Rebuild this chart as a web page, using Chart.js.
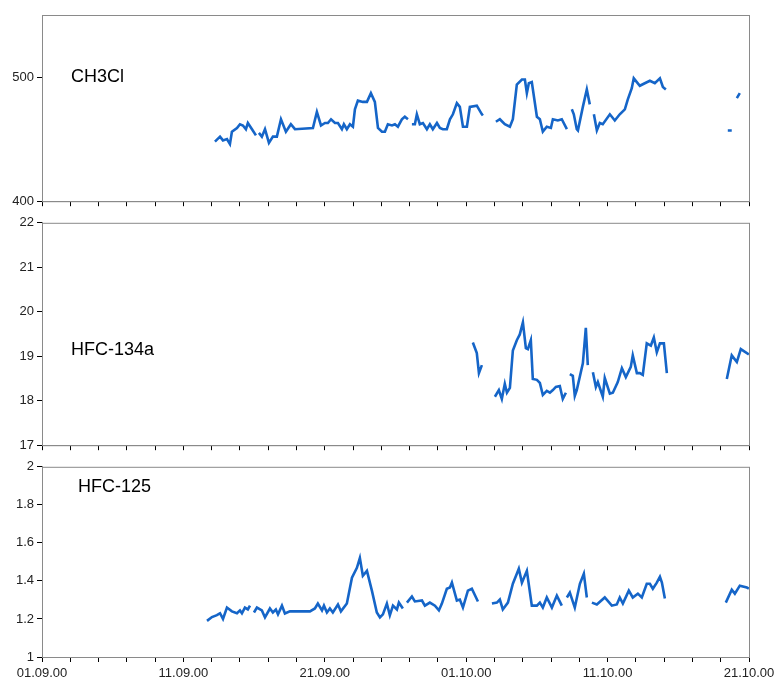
<!DOCTYPE html>
<html>
<head>
<meta charset="utf-8">
<script src="https://cdn.jsdelivr.net/npm/chart.js@4"></script>
<style>
  body { margin: 0; background: #fff; }
  .panel { position: absolute; left: 0; width: 783px; }
</style>
</head>
<body>
<div class="panel" style="top:0;height:212px"><canvas id="c1"></canvas></div>
<div class="panel" style="top:212px;height:244px"><canvas id="c2"></canvas></div>
<div class="panel" style="top:456px;height:234px"><canvas id="c3"></canvas></div>
<script>
// days since 01.09.00; null value = gap in the record
const dateLabels = ['01.09.00', '11.09.00', '21.09.00', '01.10.00', '11.10.00', '21.10.00'];

const ch3clDays = [12.23,12.59,12.80,13.08,13.29,13.43,13.79,14.00,14.21,14.42,14.56,14.85,15.13,15.2,
  15.34,15.55,15.77,16.05,16.33,16.61,16.90,17.25,17.60,17.89,19.16,19.44,19.73,20.01,20.22,20.44,20.72,20.93,
  21.21,21.35,21.56,21.78,21.99,22.13,22.34,22.69,22.98,23.26,23.54,23.76,24.04,24.25,24.46,24.75,24.96,25.17,
  25.45,25.66,25.88,26.0,26.16,26.37,26.51,26.72,26.94,27.22,27.43,27.64,27.93,28.14,28.35,28.63,28.85,29.06,
  29.34,29.55,29.77,30.05,30.26,30.75,31.11,31.18,31.5,32.10,32.38,32.73,33.09,33.30,33.58,33.94,34.15,34.29,
  34.43,34.64,35.00,35.21,35.42,35.70,35.99,36.13,36.48,36.76,37.12,37.3,37.47,37.61,37.82,37.90,38.25,38.53,
  38.74,38.9,39.03,39.24,39.45,39.66,40.16,40.51,40.86,41.22,41.43,41.71,41.85,42.28,42.63,42.99,43.34,43.70,
  43.91,44.12,45,48.50,48.78,49.0,49.14,49.35];
const ch3clValues = [448,452,449,450,446,456,459,462,461,458,463,458,453,null,
  455,452,458,447,452,452,466,456,462,458,459,472,461,463,463,466,463,463,
  458,462,458,462,460,474,481,480,480,487,480,459,456,456,462,461,462,460,
  466,468,466,null,462,462,470,462,463,458,462,458,463,459,458,458,466,470,
  479,476,460,460,476,477,470,469,null,464,466,462,460,466,494,498,498,487,
  495,496,468,466,456,460,459,466,465,466,458,null,474,470,458,457,476,490,
  478,null,470,457,463,462,470,465,470,474,482,491,499,493,495,497,495,499,
  492,490,null,457,457,null,483,487];

const hfc134aDays = [30.47,30.75,30.90,31.11,31.5,32.03,32.31,32.52,32.73,32.88,33.09,33.30,33.58,33.79,34.01,
  34.22,34.36,34.57,34.71,35.00,35.21,35.42,35.70,35.92,36.13,36.34,36.62,36.83,37.05,37.2,37.33,37.54,37.68,
  37.82,38.25,38.46,38.60,38.8,38.96,39.17,39.31,39.66,39.80,40.16,40.37,40.72,41.01,41.29,41.64,41.78,42.07,
  42.28,42.49,42.77,43.06,43.27,43.48,43.70,43.98,44.19,45,48.43,48.78,49.14,49.42,49.99];
const hfc134aValues = [19.31,19.07,18.62,18.8,null,18.09,18.24,18.04,18.38,18.18,18.29,19.13,19.36,19.49,19.76,
  19.18,19.16,19.36,18.49,18.47,18.4,18.13,18.22,18.18,18.24,18.31,18.33,18.04,18.18,null,18.6,18.56,18.11,
  18.24,18.84,19.64,18.8,null,18.64,18.31,18.42,18.09,18.51,18.16,18.18,18.42,18.73,18.53,18.76,19.02,18.62,
  18.62,18.58,19.29,19.24,19.42,19.09,19.29,19.29,18.62,null,18.49,19.02,18.87,19.16,19.04];

const hfc125Days = [11.67,12.02,12.37,12.59,12.80,13.08,13.43,13.79,14.00,14.14,14.35,14.56,14.71,14.85,
  14.99,15.20,15.55,15.77,16.12,16.33,16.54,16.69,16.97,17.18,17.53,18.95,19.30,19.51,19.80,19.94,20.15,20.36,
  20.57,20.93,21.14,21.56,21.92,22.27,22.48,22.69,22.98,23.33,23.68,23.90,24.11,24.39,24.60,24.82,25.10,25.24,
  25.52,25.65,25.81,26.16,26.37,26.87,27.08,27.43,27.79,28.07,28.28,28.63,28.85,28.99,29.34,29.55,29.77,30.12,
  30.40,30.83,31.3,31.82,32.17,32.38,32.59,32.95,33.30,33.58,33.72,33.94,34.29,34.64,35.00,35.21,35.42,35.70,
  36.06,36.41,36.76,36.9,37.12,37.33,37.68,38.04,38.32,38.53,38.7,38.89,39.24,39.80,40.30,40.65,40.86,41.08,
  41.50,41.78,42.14,42.42,42.77,42.99,43.20,43.48,43.70,43.84,44.05,45,48.36,48.78,49.00,49.35,49.85,49.99];
const hfc125Values = [1.19,1.21,1.22,1.23,1.20,1.26,1.24,1.23,1.245,1.23,1.26,1.25,1.27,null,
  1.234,1.26,1.245,1.208,1.255,1.234,1.25,1.224,1.27,1.229,1.24,1.24,1.255,1.281,1.245,1.27,1.234,1.255,
  1.234,1.276,1.24,1.281,1.417,1.469,1.521,1.427,1.453,1.349,1.234,1.208,1.224,1.281,1.219,1.27,1.25,1.286,
  1.255,null,1.286,1.318,1.292,1.297,1.27,1.286,1.27,1.245,1.281,1.359,1.365,1.391,1.297,1.302,1.26,1.349,
  1.359,1.292,null,1.281,1.286,1.302,1.25,1.286,1.385,1.438,1.464,1.391,1.453,1.27,1.27,1.286,1.26,1.313,
  1.26,1.323,1.27,null,1.313,1.339,1.26,1.385,1.438,1.313,null,1.286,1.276,1.313,1.27,1.276,1.313,1.281,
  1.349,1.313,1.333,1.313,1.385,1.385,1.359,1.391,1.422,1.391,1.307,null,1.286,1.354,1.333,1.375,1.365,1.36];

const ch3clTicks = [400, 500];
const hfc134aTicks = [17, 18, 19, 20, 21, 22];
const hfc125Ticks = [1, 1.2, 1.4, 1.6, 1.8, 2];

const frameAndLabel = {
  id: 'frameAndLabel',
  afterDraw(chart) {
    const { ctx, chartArea: a } = chart;
    const o = chart.options.plugins.frameAndLabel;
    ctx.save();
    ctx.strokeStyle = '#8a8a8a';
    ctx.lineWidth = 1;
    ctx.strokeRect(a.left + 0.5, a.top + 0.5, a.right - a.left, a.bottom - a.top);
    ctx.font = '18px "Liberation Sans", Arial, sans-serif';
    ctx.fillStyle = '#000';
    ctx.textBaseline = 'middle';
    ctx.fillText(o.text, o.x, o.y);
    ctx.restore();
  }
};

function makePanel(id, days, values, yMin, yMax, yTicks, label, labelPos, padTop, xHeight, showDates) {
  new Chart(document.getElementById(id), {
    type: 'line',
    data: {
      datasets: [{
        data: days.map((d, i) => ({ x: d, y: values[i] })),
        borderColor: '#1565c8',
        borderWidth: 2.6,
        pointRadius: 0,
        tension: 0,
        spanGaps: false
      }]
    },
    options: {
      responsive: true,
      maintainAspectRatio: false,
      animation: false,
      layout: { padding: { top: padTop, right: 34, left: 0, bottom: 0 } },
      plugins: {
        legend: { display: false },
        tooltip: { enabled: false },
        frameAndLabel: { text: label, x: labelPos[0], y: labelPos[1] }
      },
      scales: {
        x: {
          type: 'linear',
          min: 0, max: 50,
          grid: { drawOnChartArea: false, tickLength: 5, color: '#000' },
          border: { color: '#8a8a8a' },
          afterBuildTicks: s => { s.ticks = []; for (let d = 0; d <= 50; d += 2) s.ticks.push({ value: d }); },
          afterFit: s => { s.height = xHeight; },
          ticks: {
            display: showDates,
            autoSkip: false,
            maxRotation: 0,
            padding: 4,
            color: '#222',
            font: { family: '"Liberation Sans", Arial, sans-serif', size: 13 },
            callback: v => (v % 10 === 0 ? dateLabels[v / 10] : '')
          }
        },
        y: {
          min: yMin, max: yMax,
          grid: { drawOnChartArea: false, tickLength: 5, color: '#000' },
          border: { color: '#8a8a8a' },
          afterBuildTicks: s => { s.ticks = yTicks.map(v => ({ value: v })); },
          afterFit: s => { s.width = 42; },
          ticks: {
            padding: 3,
            color: '#222',
            font: { family: '"Liberation Sans", Arial, sans-serif', size: 13 },
            callback: v => String(+v.toFixed(2))
          }
        }
      }
    },
    plugins: [frameAndLabel]
  });
}

makePanel('c1', ch3clDays, ch3clValues, 400, 550, ch3clTicks, 'CH3Cl', [71, 77], 15, 10, false);
makePanel('c2', hfc134aDays, hfc134aValues, 17, 22, hfc134aTicks, 'HFC-134a', [71, 138], 9, 10, false);
makePanel('c3', hfc125Days, hfc125Values, 1, 2, hfc125Ticks, 'HFC-125', [78, 31], 9, 33, true);
</script>
</body>
</html>
